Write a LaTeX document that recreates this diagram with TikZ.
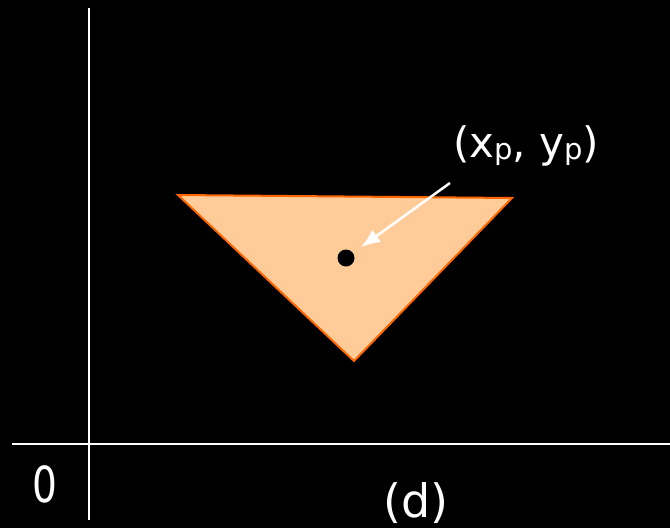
\documentclass[tikz,border=0pt]{standalone}
\usepackage{fontspec}
\setmainfont{DejaVu Sans}
\usetikzlibrary{arrows.meta}
\begin{document}
\begin{tikzpicture}[x=1pt,y=-1pt,
  axis/.style={draw=white,line width=1.5pt},
  lbl/.style={text=white,font=\fontsize{42}{48}\selectfont,inner sep=0pt},
  big/.style={text=white,font=\fontsize{46}{52}\selectfont,inner sep=0pt}]
\fill[black] (0,0) rectangle (670,528);
\useasboundingbox (0,0) rectangle (670,528);
\coordinate (vtop) at (89,8);
\coordinate (vbot) at (89,520);
\coordinate (hl) at (12,444);
\coordinate (hr) at (670,444);
\draw[axis] (vtop) -- (vbot);
\draw[axis] (hl) -- (hr);
\coordinate (A) at (178,195);
\coordinate (B) at (512,198);
\coordinate (C) at (354,361);
\filldraw[fill={rgb,255:red,255;green,204;blue,153},draw={rgb,255:red,255;green,102;blue,0},line width=2pt,line join=miter] (A) -- (B) -- (C) -- cycle;
\node[circle,fill=black,minimum size=17pt,inner sep=0pt] (P) at (346,258) {};
\node[lbl,anchor=base] (L) at (526,157) {(x{\fontsize{29}{32}\selectfont\raisebox{-0.1em}{p}}, y{\fontsize{29}{32}\selectfont\raisebox{-0.1em}{p}})};
\coordinate (AS) at (450,183);
\draw[white,line width=2.5pt,-{Latex[length=19pt,width=15pt]},shorten >=10pt] (AS) -- (P);
\node[big,anchor=base,xscale=0.85,yscale=1.08] (Z) at (45,502) {0};
\node[big,anchor=base] (D) at (416,517) {(d)};
\end{tikzpicture}
\end{document}
